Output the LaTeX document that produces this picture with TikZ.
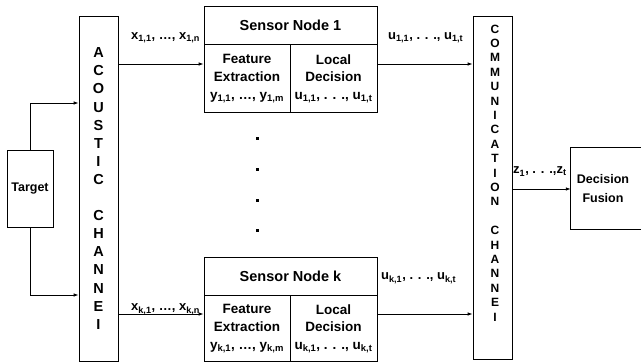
\documentclass[tikz,border=0pt]{standalone}
\usepackage{fontspec}
\setmainfont{Liberation Sans}
\usetikzlibrary{arrows.meta,positioning}

\newcommand{\sbs}[1]{\textsubscript{#1}}

\tikzset{
  box/.style={draw, line width=0.8pt, inner sep=0pt, align=center},
  cell/.style={box, font=\bfseries\fontsize{13.5}{17.7}\selectfont},
  title/.style={box, font=\bfseries\fontsize{14.5}{17}\selectfont},
  letters/.style={align=center, inner sep=0pt},
  link/.style={line width=0.8pt, -{Latex[length=5pt,width=3.5pt]}},
  var/.style={font=\bfseries\fontsize{13}{15}\selectfont, inner sep=0pt, anchor=base west},
}

\begin{document}
\begin{tikzpicture}[x=1pt, y=-1pt]
\useasboundingbox (0,0) rectangle (641,363);

% target and acoustic channel
\node[box, font=\bfseries\fontsize{12.5}{15}\selectfont, minimum width=46, minimum height=77] (tgt) at (30,188.5) {Target};
\node[box, minimum width=39, minimum height=345] (ac) at (98.5,188.5) {};
\node[letters, font=\bfseries\fontsize{14.5}{18.1}\selectfont] (actxt) at (ac.center)
  {A\\C\\O\\U\\S\\T\\I\\C\\[18.1pt]C\\H\\A\\N\\N\\E\\I};

% sensor node 1
\node[title, minimum width=173, minimum height=38] (s1) at (290.5,25) {Sensor Node 1};
\node[cell, minimum width=86, minimum height=68, anchor=north west] (fe1) at (s1.south west)
  {Feature\\Extraction\\y\sbs{1,1}, \dots, y\sbs{1,m}};
\node[cell, minimum width=87, minimum height=68, anchor=north east] (ld1) at (s1.south east)
  {Local\\Decision\\u\sbs{1,1}, . . ., u\sbs{1,t}};

% sensor node k
\node[title, minimum width=173, minimum height=38] (sk) at (290.5,276) {Sensor Node k};
\node[cell, minimum width=86, minimum height=66, anchor=north west] (fek) at (sk.south west)
  {Feature\\Extraction\\y\sbs{k,1}, \dots, y\sbs{k,m}};
\node[cell, minimum width=87, minimum height=66, anchor=north east] (ldk) at (sk.south east)
  {Local\\Decision\\u\sbs{k,1}, . . ., u\sbs{k,t}};

% dots between the sensor nodes
\foreach \yy in {139,170,201,231}
  \fill (255.5,\yy-1.5) rectangle ++(3,3);

% communication channel and fusion
\node[box, minimum width=39, minimum height=343] (comm) at (492.5,187.5) {};
\node[letters, font=\bfseries\fontsize{12}{14.4}\selectfont] (commtxt) at (495,173)
  {C\\O\\M\\M\\U\\N\\I\\C\\A\\T\\I\\O\\N\\[14.4pt]C\\H\\A\\N\\N\\E\\I};
\node[align=center, inner sep=0pt, font=\bfseries\fontsize{12.5}{18.5}\selectfont,
  minimum width=64, minimum height=81] (fusion) at (603,188.5) {Decision\\Fusion};
\draw[line width=0.8pt] (fusion.north west) rectangle ([xshift=20pt]fusion.south east);

% connectors
\draw[link] (tgt.north) |- (ac.west |- 0,103);
\draw[link] (tgt.south) |- (ac.west |- 0,295);
\draw[link] (ac.east |- 0,64) -- (fe1.west |- 0,64);
\draw[link] (ac.east |- 0,314) -- (fek.west |- 0,314);
\draw[link] (ld1.east |- 0,64) -- (comm.west |- 0,64);
\draw[link] (ldk.east |- 0,314) -- (comm.west |- 0,314);
\draw[link] (comm.east |- 0,189) -- (fusion.west |- 0,189);

% signal labels
\node[var] (xa) at (131,39.5) {x\sbs{1,1}, \dots, x\sbs{1,n}};
\node[var] (xb) at (131,310.7) {x\sbs{k,1}, \dots, x\sbs{k,n}};
\node[var] (ua) at (388,39.3) {u\sbs{1,1}, . . ., u\sbs{1,t}};
\node[var] (ub) at (381,280) {u\sbs{k,1}, . . ., u\sbs{k,t}};
\node[var] (zz) at (513,174) {z\sbs{1}, . . .,z\sbs{t}};
\end{tikzpicture}
\end{document}
